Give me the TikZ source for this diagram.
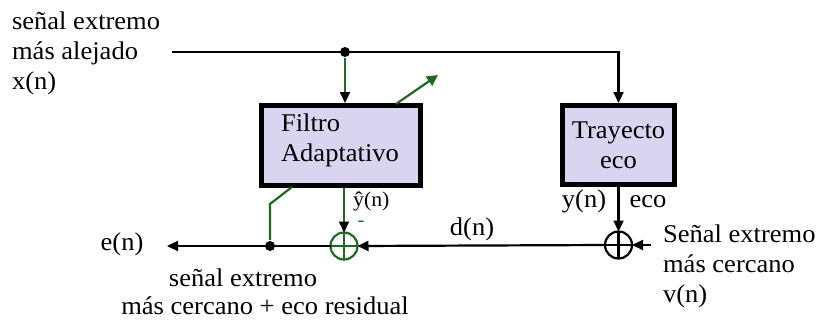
\documentclass[tikz,border=0pt]{standalone}
\usepackage{fontspec}
\setmainfont{Liberation Serif}[FakeStretch=1.04]
\usetikzlibrary{arrows.meta}
\definecolor{lav}{RGB}{217,213,240}
\definecolor{dg}{RGB}{30,105,35}
\begin{document}
\begin{tikzpicture}[x=1pt,y=-1pt,
  font=\fontsize{25.5}{30}\selectfont,
  line width=2.2pt,
  arr/.style={-{Triangle[length=11pt,width=10pt,black]}},
  garr/.style={draw=dg,-{Triangle[length=11pt,width=10pt,black]}},
  gtip/.style={draw=dg,-{Triangle[length=11pt,width=11pt,dg]}},
  blk/.style={draw=black,line width=5pt,fill=lav,inner sep=0pt},
  dot/.style={circle,fill=black,inner sep=0pt,minimum size=10pt},
  sumnode/.style={circle,draw,line width=2.2pt,inner sep=0pt,outer sep=0pt,minimum size=27pt},
  lbl/.style={inner sep=0pt}]
\useasboundingbox (0,0) rectangle (818,322);

% boxes
\node[blk,minimum width=159pt,minimum height=80pt] (filt) at (341,145.5) {};
\node[lbl,align=left] (filttxt) at (340,140) {Filtro\\Adaptativo};
\node[blk,minimum width=112pt,minimum height=79pt,align=center] (tray) at (618.5,145) {Trayecto\\eco};

% summing nodes
\node[sumnode,draw=dg] (s1) at (344,246) {};
\draw[dg] (s1.north) -- (s1.south) (s1.west) -- (s1.east);
\node[sumnode,draw=black] (s2) at (618.5,245) {};
\draw (s2.north) -- (s2.south) (s2.west) -- (s2.east);

% dots
\node[dot] (d1) at (345,52) {};
\node[dot] (d2) at (270,246) {};

% coordinates
\coordinate (xin) at (172,52);
\coordinate (vin) at (651,245);
\coordinate (eout) at (167,246);
\coordinate (a1) at (396,104);
\coordinate (a2) at (438,75);
\coordinate (f1) at (270,204);
\coordinate (f2) at (292,187);

% connectors
\draw[arr] (xin) -| (tray.north);
\draw[garr] (d1) -- (d1 |- filt.north);
\draw[gtip] (a1) -- (a2);
\draw[garr] (s1.north |- filt.south) -- (s1.north);
\draw[arr] (tray.south -| s2.north) -- (s2.north);
\draw[arr] (vin) -- (s2.east);
\draw[arr] (s2.west) -- (s1.east);
\draw[arr] (s1.west) -- (eout);
\draw[dg] (d2) -- (f1) -- (f2);

% labels
\node[lbl,align=left,anchor=west] (xlab) at (11,53) {señal extremo\\más alejado\\x(n)};
\node[lbl] (elab) at (122,244) {e(n)};
\node[lbl,anchor=west,font=\fontsize{21}{24}\selectfont] (yhat) at (352,201) {ŷ(n)};
\node[lbl,text=dg,font=\fontsize{20}{20}\selectfont] (minus) at (361,224) {-};
\node[lbl] (dlab) at (472,229) {d(n)};
\node[lbl] (ylab) at (584,201) {y(n)};
\node[lbl] (ecolab) at (648,202) {eco};
\node[lbl,align=left,anchor=west] (vlab) at (662,266) {Señal extremo\\más cercano\\v(n)};
\node[lbl] (blab1) at (243,278) {señal extremo};
\node[lbl] (blab2) at (265,306) {más cercano + eco residual};
\end{tikzpicture}
\end{document}
